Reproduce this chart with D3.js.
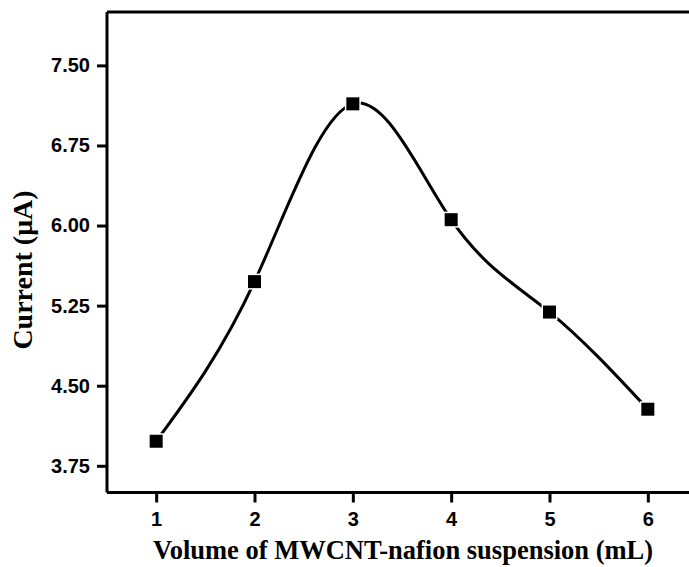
<!DOCTYPE html>
<html>
<head>
<meta charset="utf-8">
<script src="https://cdn.jsdelivr.net/npm/d3@7"></script>
<style>
  html, body { margin: 0; padding: 0; background: #fff; }
  svg { display: block; }
</style>
</head>
<body>
<script>
// Volume of MWCNT-nafion suspension (mL) vs. peak current (µA)
const volumes = [1, 2, 3, 4, 5, 6];
const currents = [3.98, 5.475, 7.14, 6.055, 5.19, 4.28];
const xTicks = [1, 2, 3, 4, 5, 6];
const yTicks = [3.75, 4.50, 5.25, 6.00, 6.75, 7.50];
const xTitle = "Volume of MWCNT-nafion suspension (mL)";
const yTitle = "Current (\u03BCA)";

const W = 689, H = 567;
const plotLeft = 107, plotTop = 12, plotRight = 697, plotBottom = 492.5;

const svg = d3.select("body").append("svg")
  .attr("width", W).attr("height", H);

const x = d3.scaleLinear().domain([0.5, 6.5]).range([plotLeft, plotRight]);
const y = d3.scaleLinear().domain([3.5, 8.0]).range([plotBottom, plotTop]);

// frame (top and right edges)
svg.append("path")
  .attr("d", `M${plotLeft},${plotTop}H${plotRight}V${plotBottom}`)
  .attr("fill", "none").attr("stroke", "#000").attr("stroke-width", 3);

const tickFont = "'Liberation Sans', Arial, sans-serif";

const xAxis = svg.append("g")
  .attr("transform", `translate(0,${plotBottom})`)
  .call(d3.axisBottom(x).tickValues(xTicks).tickSize(10).tickPadding(9).tickFormat(d3.format("d")));
const yAxis = svg.append("g")
  .attr("transform", `translate(${plotLeft},0)`)
  .call(d3.axisLeft(y).tickValues(yTicks).tickSize(10).tickPadding(7).tickFormat(d3.format(".2f")));

[xAxis, yAxis].forEach(g => {
  g.select(".domain").attr("stroke-width", 3).attr("stroke", "#000");
  g.selectAll(".tick line").attr("stroke-width", 3).attr("stroke", "#000");
  g.selectAll(".tick text")
    .attr("fill", "#000")
    .style("font-family", tickFont)
    .style("font-weight", "bold")
    .style("font-size", "20px");
});
xAxis.select(".domain").attr("d", `M${plotLeft},0H${plotRight}`);
yAxis.select(".domain").attr("d", `M0,${plotTop}V${plotBottom}`);

// smooth connecting curve
const pts = volumes.map((v, i) => [v, currents[i]]);
const line = d3.line().x(d => x(d[0])).y(d => y(d[1])).curve(d3.curveNatural);
svg.append("path")
  .datum(pts)
  .attr("d", line)
  .attr("fill", "none")
  .attr("stroke", "#000")
  .attr("stroke-width", 3);

// square markers with white halo
const s = 13;
svg.selectAll("rect.pt").data(pts).enter().append("rect")
  .attr("class", "pt")
  .attr("x", d => x(d[0]) - s / 2)
  .attr("y", d => y(d[1]) - s / 2)
  .attr("width", s).attr("height", s)
  .attr("fill", "#000")
  .attr("stroke", "#fff")
  .attr("stroke-width", 3)
  .attr("paint-order", "stroke");

const titleFont = "'Liberation Serif', 'Times New Roman', serif";
svg.append("text")
  .attr("x", 403)
  .attr("y", 559)
  .attr("text-anchor", "middle")
  .style("font-family", titleFont)
  .style("font-weight", "bold")
  .style("font-size", "26.5px")
  .text(xTitle);

svg.append("text")
  .attr("transform", `translate(32,270) rotate(-90)`)
  .attr("text-anchor", "middle")
  .style("font-family", titleFont)
  .style("font-weight", "bold")
  .style("font-size", "28px")
  .text(yTitle);
</script>
</body>
</html>
